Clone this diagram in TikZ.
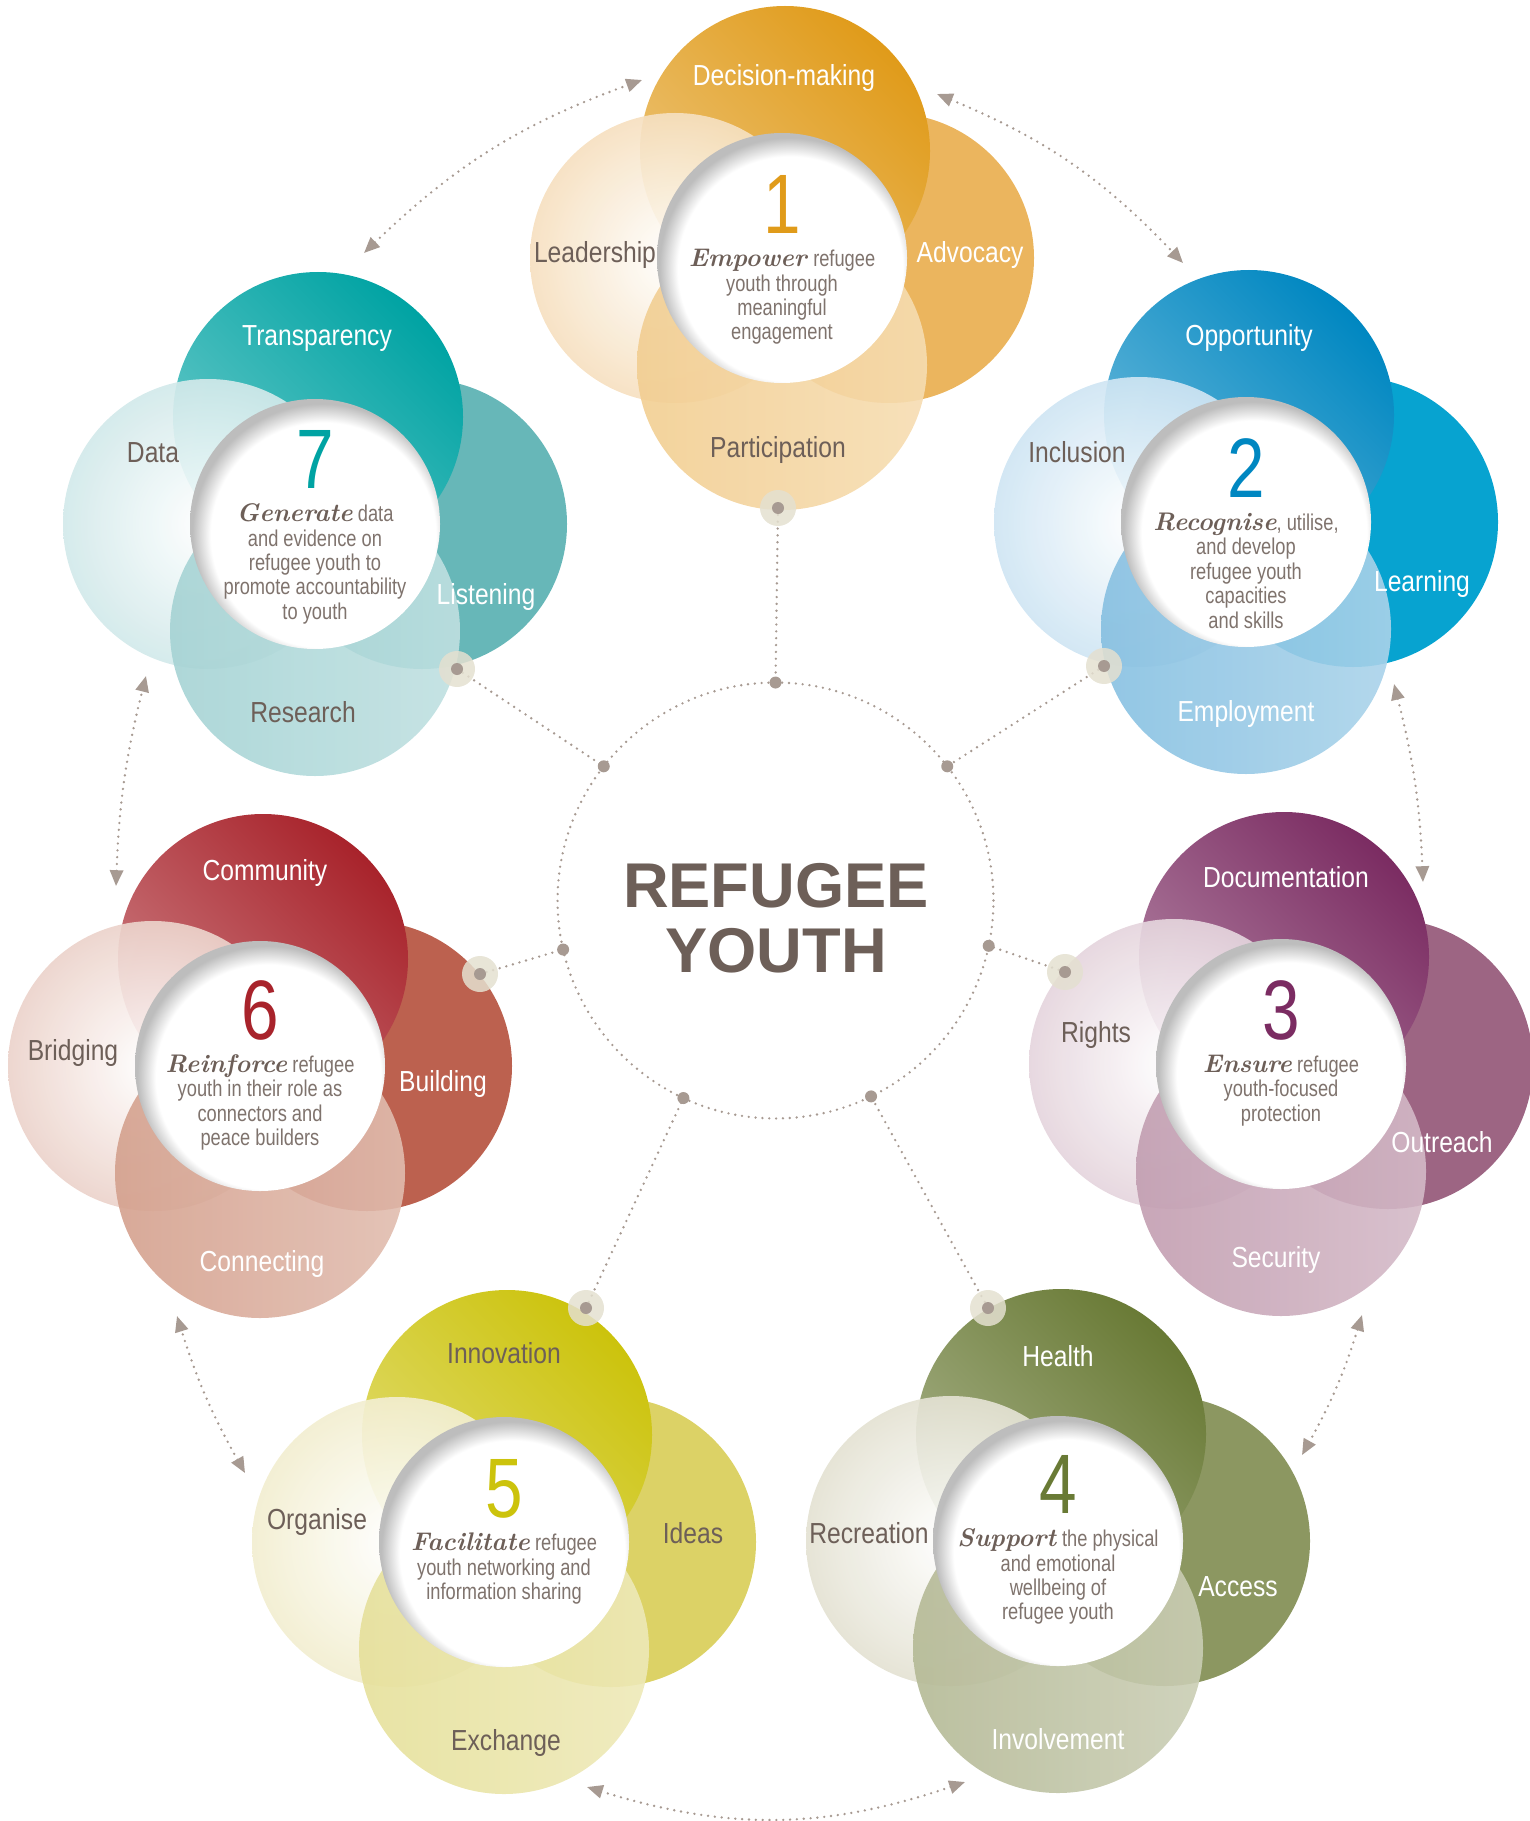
\documentclass[tikz,border=0pt]{standalone}
\usepackage{fontspec}
\usepackage{tikz}
\usetikzlibrary{arrows.meta,calc,positioning}

\newfontfamily\lblfont{Liberation Sans}[FakeStretch=0.85]
\newfontfamily\txtfont{Liberation Sans}[FakeStretch=0.8]
\newfontfamily\headfont{Liberation Sans}

\definecolor{txtc}{HTML}{6D5F58}
\definecolor{descc}{HTML}{7F736D}
\definecolor{dotc}{HTML}{A79A92}
\definecolor{haloc}{HTML}{E4E0D0}
% one set of four lobe colours per cluster
\definecolor{c1top}{HTML}{E09B1A}\definecolor{c1right}{HTML}{EBB55E}\definecolor{c1bot}{HTML}{F2CE91}\definecolor{c1left}{HTML}{F6E0C0}
\definecolor{c2top}{HTML}{0087C1}\definecolor{c2right}{HTML}{07A3D0}\definecolor{c2bot}{HTML}{86C0E1}\definecolor{c2left}{HTML}{CFE5F3}
\definecolor{c3top}{HTML}{7B2C62}\definecolor{c3right}{HTML}{9D6583}\definecolor{c3bot}{HTML}{C29DB0}\definecolor{c3left}{HTML}{E5D5DD}
\definecolor{c4top}{HTML}{697A35}\definecolor{c4right}{HTML}{8C9761}\definecolor{c4bot}{HTML}{B4B995}\definecolor{c4left}{HTML}{E4E2D3}
\definecolor{c5top}{HTML}{CCC30C}\definecolor{c5right}{HTML}{DCD266}\definecolor{c5bot}{HTML}{E6E09A}\definecolor{c5left}{HTML}{F2EED0}
\definecolor{c6top}{HTML}{A8232B}\definecolor{c6right}{HTML}{BC614F}\definecolor{c6bot}{HTML}{D4A08D}\definecolor{c6left}{HTML}{ECD3CB}
\definecolor{c7top}{HTML}{00A3A3}\definecolor{c7right}{HTML}{67B7B8}\definecolor{c7bot}{HTML}{A5D3D4}\definecolor{c7left}{HTML}{D2E9EA}

\pgfdeclareradialshading{hole}{\pgfpoint{3bp}{-4bp}}{color(0bp)=(white); color(22.5bp)=(white); color(26bp)=(black!26); color(50bp)=(black!26)}

\newcommand\scr[1]{{\rmfamily\bfseries\itshape\fontsize{14.5}{13.9}\selectfont\color{txtc}#1\/}}
\newcommand\bignum[2]{{\txtfont\fontsize{48}{48}\selectfont\color{#1}#2}}

\begin{document}
\begin{tikzpicture}[x=0.02cm, y=-0.02cm,
    wl/.style={font=\lblfont\fontsize{16.5}{18}\selectfont, text=white, anchor=base, inner sep=0},
    gl/.style={wl, text=txtc},
    blk/.style={anchor=north, align=center, inner sep=0, text=descc, font=\txtfont\fontsize{13}{13.9}\selectfont},
    dotline/.style={draw=dotc, line width=1.5pt, line cap=round, dash pattern=on 0pt off 3.9pt},
    arr/.style={dotline, {Triangle[length=9pt,width=7.5pt]}-{Triangle[length=9pt,width=7.5pt]}},
    halo/.style={circle, fill=haloc, fill opacity=.85, minimum size=0.72cm, inner sep=0},
    ring/.style={circle, dotline, minimum size=8.72cm, inner sep=0, outer sep=0}]
  \useasboundingbox (0,0) rectangle (1530,1821);

  % arrows between neighbouring clusters
  \coordinate (a71) at (364,253);   \coordinate (a17) at (642,80);
  \coordinate (a12) at (937,94);    \coordinate (a21) at (1183,263);
  \coordinate (a23) at (1394,684);  \coordinate (a32) at (1423,882);
  \coordinate (a34) at (1362,1315); \coordinate (a43) at (1302,1455);
  \coordinate (a45) at (965,1782);  \coordinate (a54) at (587,1787);
  \coordinate (a56) at (245,1473);  \coordinate (a65) at (177,1316);
  \coordinate (a67) at (116,886);   \coordinate (a76) at (146,676);
  \draw[arr] (a71) to[bend left=12] (a17);
  \draw[arr] (a12) to[bend left=12] (a21);
  \draw[arr] (a23) to[bend left=6] (a32);
  \draw[arr] (a34) to[bend left=6] (a43);
  \draw[arr] (a45) to[bend left=18] (a54);
  \draw[arr] (a56) to[bend left=6] (a65);
  \draw[arr] (a67) to[bend left=6] (a76);

  % centre
  \node[ring] (ring) at (775.5,900.5) {};
  \node[font=\headfont\bfseries\fontsize{36}{37}\selectfont, text=txtc, align=center] (title) at (776,918) {REFUGEE\\YOUTH};

  \foreach \k/\px/\py in {1/778/508, 2/1104/666, 3/1065/972, 4/988/1308, 5/586/1308, 6/480/974, 7/457/669}{
    \pgfmathsetmacro\ang{90-(\k-1)*360/7}
    \coordinate (q\k) at (\px,\py);
    \draw[dotline] (q\k) -- (ring.\ang);
    \fill[dotc] (ring.\ang) circle[radius=6];
  }

  % clusters
  \foreach \k/\cx/\cy in {1/782/258, 2/1246/522, 3/1281/1064, 4/1058/1541, 5/504/1542, 6/260/1066, 7/315/524}{
    \coordinate (c\k) at (\cx,\cy);
    \fill[c\k right] (\cx+107,\cy) circle[radius=145];
    \shade[top color=c\k top!60!white, bottom color=c\k top, shading angle=135] (\cx+3,\cy-107) circle[radius=145];
    \shade[inner color=white, outer color=c\k left, opacity=.92] (\cx-107,\cy) circle[radius=145];
    \shade[left color=c\k bot, right color=c\k bot!70!white, opacity=.9] (\cx,\cy+107) circle[radius=145];
    \shade[shading=hole] (\cx,\cy) circle[radius=125];
  }

  \foreach \k in {1,...,7}{
    \node[halo] (p\k) at (q\k) {};
    \fill[dotc] (p\k) circle[radius=6];
  }

  % lobe labels
  \foreach \k/\dx/\dy/\st/\txt [count=\i] in {
      1/2/-182/wl/Decision-making, 1/-187/-5/gl/Leadership, 1/188/-5/wl/Advocacy, 1/-4/189/gl/Participation,
      2/3/-187/wl/Opportunity, 2/-169/-70/gl/Inclusion, 2/176/59/wl/Learning, 2/0/189/wl/Employment,
      3/5/-187/wl/Documentation, 3/-185/-32/gl/Rights, 3/161/78/wl/Outreach, 3/-5/193/wl/Security,
      4/0/-185/wl/Health, 4/-189/-8/gl/Recreation, 4/180/45/wl/Access, 4/0/198/wl/Involvement,
      5/0/-189/gl/Innovation, 5/-187/-23/gl/Organise, 5/189/-9/gl/Ideas, 5/2/198/gl/Exchange,
      6/5/-196/wl/Community, 6/-187/-16/gl/Bridging, 6/183/15/wl/Building, 6/2/195/wl/Connecting,
      7/2/-189/wl/Transparency, 7/-162/-72/gl/Data, 7/171/70/wl/Listening, 7/-12/188/gl/Research}
    \node[\st] (lab\i) at ($(c\k)+(\dx,\dy+10)$) {\txt};

  % numbers and aims
  \node[blk] (t1) at (782,258-83) {\bignum{c1top}{1}\\[5pt]\scr{Empower} refugee\\youth through\\meaningful\\engagement};
  \node[blk] (t2) at (1246,522-84) {\bignum{c2top}{2}\\[5pt]\scr{Recognise}, utilise,\\and develop\\refugee youth\\capacities\\and skills};
  \node[blk] (t3) at (1281,1064-84) {\bignum{c3top}{3}\\[5pt]\scr{Ensure} refugee\\youth-focused\\protection};
  \node[blk] (t4) at (1058,1541-86) {\bignum{c4top}{4}\\[5pt]\scr{Support} the physical\\and emotional\\wellbeing of\\refugee youth};
  \node[blk] (t5) at (504,1542-83) {\bignum{c5top}{5}\\[5pt]\scr{Facilitate} refugee\\youth networking and\\information sharing};
  \node[blk] (t6) at (260,1066-86) {\bignum{c6top}{6}\\[5pt]\scr{Reinforce} refugee\\youth in their role as\\connectors and\\peace builders};
  \node[blk] (t7) at (315,524-94) {\bignum{c7top}{7}\\[5pt]\scr{Generate} data\\and evidence on\\refugee youth to\\promote accountability\\to youth};
\end{tikzpicture}
\end{document}
